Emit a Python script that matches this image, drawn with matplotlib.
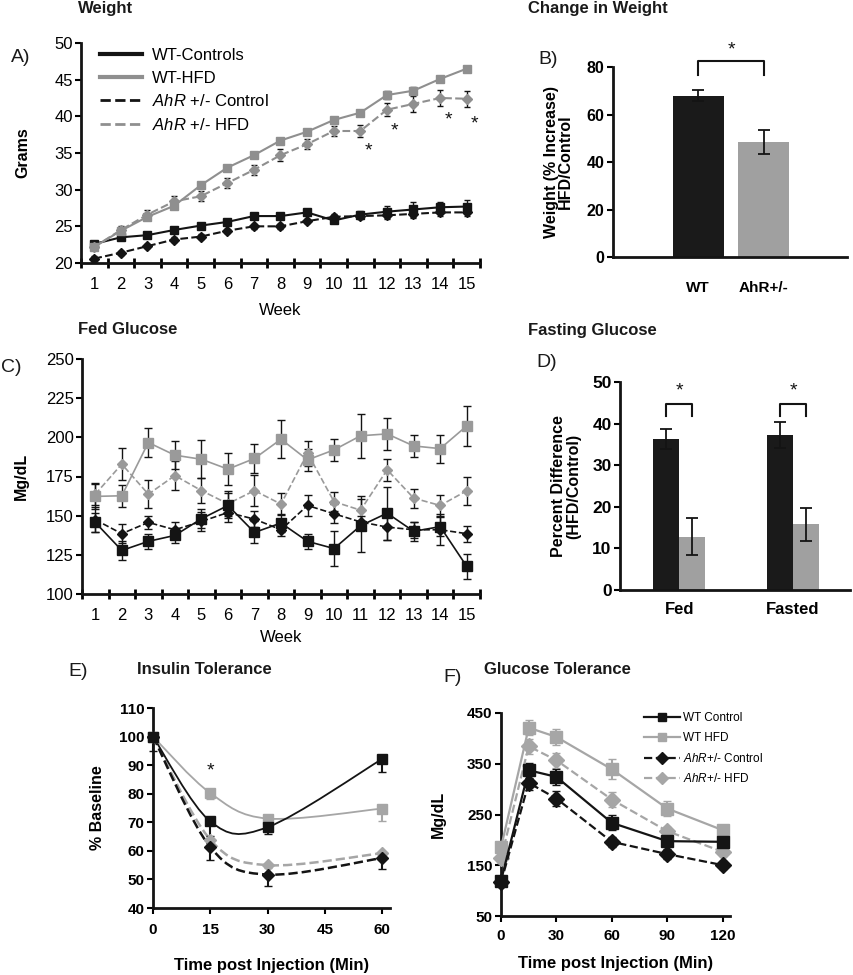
import matplotlib
matplotlib.use("Agg")
import matplotlib.pyplot as plt
import numpy as np
from matplotlib.path import Path
from matplotlib.patches import PathPatch

plt.rcParams['font.family'] = ['Liberation Sans', 'DejaVu Sans']
plt.rcParams['mathtext.fontset'] = 'custom'
plt.rcParams['mathtext.it'] = 'Liberation Sans:italic'
plt.rcParams['mathtext.rm'] = 'Liberation Sans'
plt.rcParams['axes.linewidth'] = 2

# ---------------- data ----------------
weeks = np.arange(1, 16)

# A) weight (grams)
wt_ctrl_w = [22.6, 23.5, 23.8, 24.5, 25.1, 25.6, 26.4, 26.4, 26.9, 25.8, 26.6, 27.0, 27.3, 27.6, 27.7]
wt_hfd_w = [22.2, 24.4, 26.3, 27.8, 30.6, 33.0, 34.7, 36.7, 37.9, 39.5, 40.5, 42.9, 43.5, 45.1, 46.5]
ahr_ctrl_w = [20.6, 21.4, 22.3, 23.2, 23.6, 24.4, 25.0, 25.0, 25.7, 26.3, 26.4, 26.5, 26.7, 26.9, 26.9]
ahr_hfd_w = [22.2, 24.5, 26.6, 28.4, 29.1, 30.9, 32.7, 34.7, 36.2, 38.0, 38.0, 40.9, 41.7, 42.5, 42.4]
wt_ctrl_w_err = [0.3, 0.3, 0.3, 0.3, 0.3, 0.3, 0.3, 0.3, 0.3, 0.4, 0.5, 0.8, 1.0, 0.7, 0.9]
wt_hfd_w_err = [0.3, 0.3, 0.4, 0.4, 0.4, 0.4, 0.4, 0.4, 0.4, 0.4, 0.4, 0.5, 0.5, 0.4, 0.4]
ahr_ctrl_w_err = [0.3, 0.3, 0.3, 0.3, 0.3, 0.3, 0.3, 0.3, 0.3, 0.4, 0.4, 0.5, 0.5, 0.5, 0.5]
ahr_hfd_w_err = [0.4, 0.5, 0.6, 0.7, 0.7, 0.7, 0.7, 0.8, 0.7, 0.7, 0.8, 0.9, 1.1, 1.1, 1.1]
star_weeks_a = [11, 12, 14, 15]
star_y_a = [35.3, 38.0, 39.5, 38.9]

# B) change in weight
b_groups = ['WT', 'AhR+/-']
b_values = [68.0, 48.5]
b_err = [2.5, 5.0]

# C) fed glucose (mg/dL)
wt_ctrl_g = [145.7, 127.8, 133.6, 137.4, 148.0, 156.5, 139.3, 145.3, 133.6, 129.0, 143.6, 151.6, 140.0, 143.0, 117.6]
wt_hfd_g = [162.3, 162.7, 196.7, 188.6, 186.0, 179.7, 186.5, 198.8, 185.6, 192.0, 201.0, 202.2, 194.5, 192.8, 207.3]
ahr_ctrl_g = [147.4, 138.5, 145.7, 141.0, 146.3, 152.0, 147.8, 141.0, 156.5, 151.2, 146.0, 142.7, 141.0, 141.0, 138.5]
ahr_hfd_g = [163.7, 182.9, 163.7, 175.6, 166.0, 157.6, 166.0, 157.4, 189.9, 158.9, 153.5, 179.3, 161.2, 156.5, 165.9]
wt_ctrl_g_err = [6, 6, 5, 5, 6, 8, 7, 6, 5, 11, 17, 17, 6, 6, 8]
wt_hfd_g_err = [8, 7, 9, 9, 12, 10, 9, 12, 7, 7, 14, 10, 7, 9, 13]
ahr_ctrl_g_err = [8, 6, 4, 5, 6, 6, 5, 4, 7, 6, 4, 8, 5, 10, 5]
ahr_hfd_g_err = [7, 10, 9, 9, 8, 8, 10, 7, 8, 6, 9, 7, 6, 7, 9]

# D) percent difference
d_groups = ['Fed', 'Fasted']
d_wt = [36.3, 37.3]
d_wt_err = [2.5, 3.2]
d_ahr = [12.8, 15.8]
d_ahr_err = [4.5, 4.0]

# E) insulin tolerance (% baseline)
itt_time = [0, 15, 30, 60]
itt_wt_ctrl = [100, 70.3, 68.3, 92.2]
itt_wt_hfd = [100, 80.2, 71.3, 74.8]
itt_ahr_ctrl = [100, 61.3, 51.7, 57.5]
itt_ahr_hfd = [100, 63.9, 55.0, 59.2]
itt_wt_ctrl_err = [0, 5, 2.5, 4.5]
itt_wt_hfd_err = [0, 2, 1, 4.5]
itt_ahr_ctrl_err = [5, 4.5, 4, 4]
itt_ahr_hfd_err = [0, 2, 1, 2]

# F) glucose tolerance (mg/dL)
gtt_time = [0, 15, 30, 60, 90, 120]
gtt_wt_ctrl = [119.5, 337.2, 324.1, 233.6, 197.5, 196.2]
gtt_wt_hfd = [185.0, 421.0, 402.8, 339.2, 261.8, 219.2]
gtt_ahr_ctrl = [116.2, 312.3, 281.5, 196.2, 172.0, 150.3]
gtt_ahr_hfd = [163.4, 384.4, 356.9, 279.5, 217.2, 176.6]
gtt_wt_ctrl_err = [8, 15, 15, 15, 10, 8]
gtt_wt_hfd_err = [8, 15, 15, 20, 15, 8]
gtt_ahr_ctrl_err = [8, 15, 15, 10, 10, 8]
gtt_ahr_hfd_err = [8, 15, 15, 15, 8, 8]

BLACK = '#141414'
GRAY = '#8f8f8f'
LGRAY = '#a6a6a6'
W, H = 854, 975


def rect(left, top, right, bottom):
    return [left / W, 1 - bottom / H, (right - left) / W, (bottom - top) / H]


def clean(ax):
    ax.spines['top'].set_visible(False)
    ax.spines['right'].set_visible(False)
    ax.spines['left'].set_color(BLACK)
    ax.spines['bottom'].set_color(BLACK)


def bold_ticks(ax):
    for t in ax.get_xticklabels() + ax.get_yticklabels():
        t.set_fontweight('bold')


def smooth(ax, x, y, **kw):
    # Excel-style smoothed line (cubic bezier through the points)
    pts = np.column_stack([x, y]).astype(float)
    verts = [pts[0]]
    codes = [Path.MOVETO]
    n = len(pts)
    for i in range(n - 1):
        p0 = pts[i - 1] if i > 0 else pts[i]
        p1, p2 = pts[i], pts[i + 1]
        p3 = pts[i + 2] if i + 2 < n else pts[i + 1]
        verts += [p1 + (p2 - p0) / 6, p2 - (p3 - p1) / 6, p2]
        codes += [Path.CURVE4] * 3
    ax.add_patch(PathPatch(Path(verts, codes), fill=False, **kw))


fig = plt.figure(figsize=(8.54, 9.75), dpi=100)

# ---------------- A ----------------
ax = fig.add_axes(rect(81, 43, 480, 263))
clean(ax)
series_a = [
    (wt_ctrl_w, wt_ctrl_w_err, BLACK, 's', '-', 'WT-Controls'),
    (wt_hfd_w, wt_hfd_w_err, GRAY, 's', '-', 'WT-HFD'),
    (ahr_ctrl_w, ahr_ctrl_w_err, BLACK, 'D', '--', r'$\it{AhR}$ +/- Control'),
    (ahr_hfd_w, ahr_hfd_w_err, GRAY, 'D', '--', r'$\it{AhR}$ +/- HFD'),
]
for vals, err, c, m, ls, lab in series_a:
    ax.errorbar(weeks, vals, yerr=err, color=c, ecolor=BLACK, elinewidth=1, capsize=2.5,
                marker=m, ms=6 if m == 's' else 5.5, ls=ls, lw=1.5, zorder=3)
handles = [plt.Line2D([], [], color=c, ls=ls, lw=3 if ls == '-' else 2)
           for _, _, c, _, ls, _ in series_a]
ax.legend(handles, [s[5] for s in series_a], loc='upper left', bbox_to_anchor=(0.01, 1.045),
          frameon=False, fontsize=12, handlelength=2.5, labelspacing=0.45, handletextpad=0.6)
for wk, sy in zip(star_weeks_a, star_y_a):
    ax.text(wk + 0.3, sy, '*', ha='center', va='center', fontsize=14, color=BLACK)
ax.set_xlim(0.5, 15.5)
ax.set_ylim(20, 50)
ax.set_yticks(range(20, 51, 5))
ax.set_xticks(weeks)
ax.set_xticks(np.arange(0.5, 15.6, 1), minor=True)
ax.tick_params(axis='x', which='major', length=0, labelsize=12, pad=10)
ax.tick_params(axis='x', which='minor', direction='inout', length=7, width=2)
ax.tick_params(axis='y', direction='out', length=4, width=1.5, labelsize=12, pad=2)
ax.set_xlabel('Week', fontsize=12, labelpad=8)
ax.set_ylabel('Grams', fontsize=11.5, fontweight='bold', labelpad=17)

# ---------------- B ----------------
ax = fig.add_axes(rect(613, 67, 847, 257))
clean(ax)
xb = np.arange(len(b_groups))
ax.bar(xb, b_values, width=0.78, color=['#1a1a1a', '#a0a0a0'],
       yerr=b_err, error_kw=dict(ecolor=BLACK, elinewidth=1.3, capsize=4, capthick=1.3))
ax.plot([0, 0, 1, 1], [76.6, 82.5, 82.5, 76.6], color=BLACK, lw=1.5, clip_on=False)
ax.text(0.5, 87, '*', ha='center', va='center', fontsize=14, color=BLACK)
ax.set_xlim(-1.3, 2.27)
ax.set_ylim(0, 80)
ax.set_yticks(range(0, 81, 20))
ax.set_xticks(xb)
ax.set_xticklabels(b_groups)
ax.tick_params(axis='x', length=0, labelsize=11, pad=17)
ax.tick_params(axis='y', direction='out', length=4, width=1.5, labelsize=11.5, pad=2)
bold_ticks(ax)
ax.set_ylabel('Weight (% Increase)\nHFD/Control', fontsize=11.5, fontweight='bold',
              labelpad=10, linespacing=0.95)

# ---------------- C ----------------
ax = fig.add_axes(rect(82, 359, 480, 594))
clean(ax)
series_c = [
    (wt_hfd_g, wt_hfd_g_err, '#9a9a9a', 's', '-'),
    (ahr_hfd_g, ahr_hfd_g_err, '#9a9a9a', 'D', '--'),
    (ahr_ctrl_g, ahr_ctrl_g_err, BLACK, 'D', '--'),
    (wt_ctrl_g, wt_ctrl_g_err, BLACK, 's', '-'),
]
for vals, err, c, m, ls in series_c:
    ax.errorbar(weeks, vals, yerr=err, color=c, ecolor=BLACK, elinewidth=1, capsize=3,
                marker=m, ms=6.5 if m == 's' else 5.5, ls=ls, lw=1.2, zorder=3)
ax.set_xlim(0.5, 15.5)
ax.set_ylim(100, 250)
ax.set_yticks(range(100, 251, 25))
ax.set_xticks(weeks)
ax.set_xticks(np.arange(0.5, 15.6, 1), minor=True)
ax.tick_params(axis='x', which='major', length=0, labelsize=12, pad=10)
ax.tick_params(axis='x', which='minor', direction='inout', length=7, width=2)
ax.tick_params(axis='y', direction='out', length=4, width=1.5, labelsize=12, pad=2)
ax.set_xlabel('Week', fontsize=12, labelpad=5)
ax.set_ylabel('Mg/dL', fontsize=11.5, fontweight='bold', labelpad=12)

# ---------------- D ----------------
ax = fig.add_axes(rect(620, 382, 850, 590))
clean(ax)
xd = np.arange(len(d_groups))
bw = 0.23
ax.bar(xd - bw / 2, d_wt, width=bw, color='#1a1a1a', yerr=d_wt_err,
       error_kw=dict(ecolor=BLACK, elinewidth=1.3, capsize=4, capthick=1.3))
ax.bar(xd + bw / 2, d_ahr, width=bw, color='#a0a0a0', yerr=d_ahr_err,
       error_kw=dict(ecolor=BLACK, elinewidth=1.3, capsize=4, capthick=1.3))
for xc in xd:
    ax.plot([xc - bw / 2, xc - bw / 2, xc + bw / 2, xc + bw / 2], [41.8, 44.7, 44.7, 41.8],
            color=BLACK, lw=1.5)
    ax.text(xc, 47.8, '*', ha='center', va='center', fontsize=14, color=BLACK)
ax.set_xlim(-0.52, 1.5)
ax.set_ylim(0, 50)
ax.set_yticks(range(0, 51, 10))
ax.set_xticks(xd)
ax.set_xticklabels(d_groups)
ax.tick_params(axis='x', length=0, labelsize=12, pad=9)
ax.tick_params(axis='y', direction='out', length=4, width=1.5, labelsize=12.5, pad=2)
bold_ticks(ax)
ax.set_ylabel('Percent Difference\n(HFD/Control)', fontsize=11.5, fontweight='bold',
              labelpad=8, linespacing=1.0)

# ---------------- E ----------------
ax = fig.add_axes(rect(153, 708, 390, 908))
clean(ax)
series_e = [
    (itt_wt_hfd, itt_wt_hfd_err, LGRAY, 's', '-'),
    (itt_ahr_hfd, itt_ahr_hfd_err, LGRAY, 'D', '--'),
    (itt_ahr_ctrl, itt_ahr_ctrl_err, BLACK, 'D', '--'),
    (itt_wt_ctrl, itt_wt_ctrl_err, BLACK, 's', '-'),
]
for vals, err, c, m, ls in series_e:
    smooth(ax, itt_time, vals, edgecolor=c, lw=1.3 if ls == '-' else 1.8, ls=ls, zorder=2)
    ax.errorbar(itt_time, vals, yerr=[err, np.zeros(len(err))], color=c, ecolor=c,
                elinewidth=1.5, capsize=3, marker=m, ms=7 if m == 's' else 6.5, ls='none',
                zorder=3, clip_on=False)
ax.text(15, 87.8, '*', ha='center', va='center', fontsize=14, color=BLACK)
ax.set_xlim(0, 62)
ax.set_ylim(40, 110)
ax.set_xticks([0, 15, 30, 45, 60])
ax.set_yticks(range(40, 111, 10))
ax.tick_params(direction='out', length=4, width=1.5, labelsize=11, pad=2)
ax.tick_params(axis='x', pad=7)
bold_ticks(ax)
ax.set_xlabel('Time post Injection (Min)', fontsize=12, fontweight='bold', labelpad=15)
ax.set_ylabel('% Baseline', fontsize=11.5, fontweight='bold', labelpad=10)

# ---------------- F ----------------
ax = fig.add_axes(rect(501, 713, 730, 916))
clean(ax)
series_f = [
    (gtt_wt_ctrl, gtt_wt_ctrl_err, BLACK, 's', '-', 'WT Control'),
    (gtt_wt_hfd, gtt_wt_hfd_err, LGRAY, 's', '-', 'WT HFD'),
    (gtt_ahr_ctrl, gtt_ahr_ctrl_err, BLACK, 'D', '--', r'$\it{AhR}$+/- Control'),
    (gtt_ahr_hfd, gtt_ahr_hfd_err, LGRAY, 'D', '--', r'$\it{AhR}$+/- HFD'),
]
order = [1, 3, 0, 2]
lines = {}
for i in order:
    vals, err, c, m, ls, lab = series_f[i]
    lines[i] = ax.errorbar(gtt_time, vals, yerr=err, color=c, ecolor=c, elinewidth=1.5,
                           capsize=3, marker=m, ms=8, ls=ls, lw=1.6,
                           label=lab, zorder=3, clip_on=False)
ax.legend([lines[i].lines[0] for i in range(4)], [s[5] for s in series_f],
          loc='upper left', bbox_to_anchor=(0.58, 1.055), frameon=False, fontsize=8.5,
          handlelength=3.0, labelspacing=0.65, handletextpad=0.3, markerscale=0.75)
ax.set_xlim(0, 124)
ax.set_ylim(50, 450)
ax.set_xticks([0, 30, 60, 90, 120])
ax.set_yticks(range(50, 451, 100))
ax.tick_params(direction='out', length=4, width=1.5, labelsize=11, pad=2)
ax.tick_params(axis='x', pad=5)
bold_ticks(ax)
ax.set_xlabel('Time post Injection (Min)', fontsize=12, fontweight='bold', labelpad=10)
ax.set_ylabel('Mg/dL', fontsize=11.5, fontweight='bold', labelpad=15)

# ---------------- titles and panel letters ----------------
def ftext(x, y, s, **kw):
    fig.text(x / W, 1 - y / H, s, va='center', ha='left', **kw)

for x, y, s in [(78, 9, 'Weight'), (528, 9, 'Change in Weight'), (78, 330, 'Fed Glucose'),
                (528, 330, 'Fasting Glucose'), (137, 670, 'Insulin Tolerance'),
                (484, 670, 'Glucose Tolerance')]:
    ftext(x, y, s, fontsize=12, fontweight='bold', color='#1a1a1a')
for x, y, s in [(11, 58, 'A)'), (538, 60, 'B)'), (1, 367, 'C)'), (536, 363, 'D)'),
                (68, 671, 'E)'), (443, 677, 'F)')]:
    ftext(x, y, s, fontsize=14, color='#1a1a1a')

fig.savefig('out.png', dpi=100)
